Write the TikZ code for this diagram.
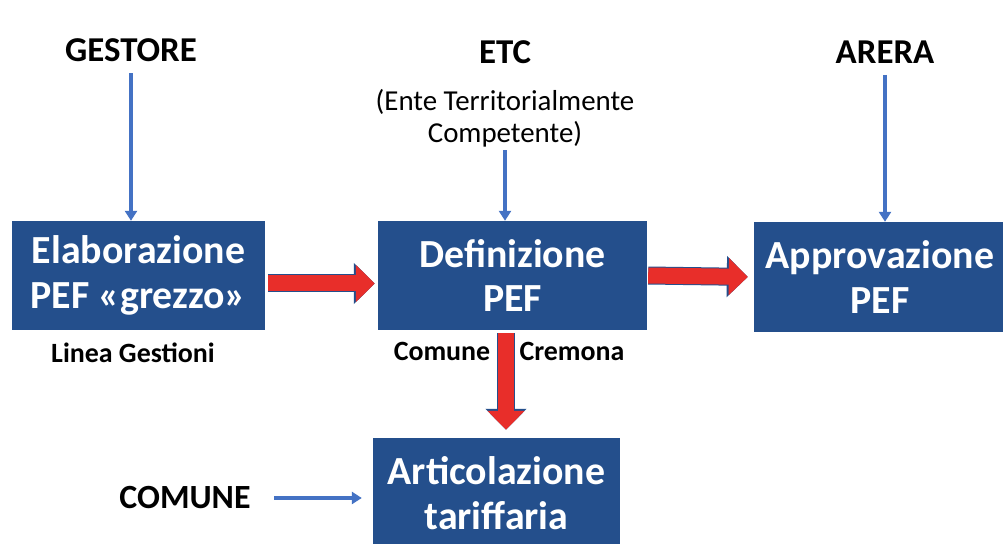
\documentclass[tikz,border=0pt]{standalone}
\usepackage{fontspec}
\setmainfont{Carlito}
\usetikzlibrary{arrows.meta}
\definecolor{boxblu}{RGB}{36,79,140}
\definecolor{frecciablu}{RGB}{68,114,196}
\definecolor{frecciarossa}{RGB}{232,46,42}
\begin{document}
\begin{tikzpicture}[x=1bp,y=1bp,
    fase/.style={fill=boxblu, text=white, align=center, inner sep=0pt,
        minimum height=109bp, font=\fontsize{40}{45}\selectfont\bfseries},
    soggetto/.style={font=\fontsize{35}{40}\selectfont\bfseries},
    nota/.style={font=\fontsize{28}{32}\selectfont\bfseries},
    flusso/.style={draw=frecciablu, line width=3.5bp, -{Triangle[width=12bp,length=10bp]}},
    passo/.style={draw=frecciarossa, line width=16bp, -{Triangle[width=36bp,length=19bp]},
        preaction={draw=boxblu, line width=18bp, -{Triangle[width=40bp,length=21bp]}}}]
    \useasboundingbox[fill=white] (0,0) rectangle (1003,544);
    % fasi del PEF
    \node[fase, minimum width=253bp] (elab) at (138.5,268.5) {Elaborazione\\PEF «grezzo»};
    \node[fase, minimum width=269bp] (defin) at (512.5,268.5) {Definizione\\PEF};
    \node[fase, minimum width=252bp, minimum height=110bp] (appr) at (880,267) {Approvazione\\PEF};
    \node[fase, minimum width=247bp, minimum height=110bp] (artic) at (496.5,51) {Articolazione\\tariffaria};
    % soggetti
    \node[soggetto] (gestore) at (131,494) {GESTORE};
    \node[soggetto] (etc) at (505,492) {ETC};
    \node[font=\fontsize{29}{32}\selectfont, align=center] (ente) at (505,426) {(Ente Territorialmente\\Competente)};
    \node[soggetto] (arera) at (885,492) {ARERA};
    \node[soggetto, font=\fontsize{34}{40}\selectfont\bfseries] (comune) at (185,46) {COMUNE};
    \node[nota] (linea) at (133,191) {Linea Gestioni};
    \node[nota] (comcr) at (442,193) {Comune};
    \node[nota] (cremona) at (572,193) {Cremona};
    \draw[flusso, shorten <=8bp] (gestore.south) -- (gestore.south |- elab.north);
    \draw[flusso] (ente.south) -- (ente.south |- defin.north);
    \draw[flusso, shorten <=8bp] (arera.south) -- (arera.south |- appr.north);
    \draw[flusso, shorten <=20bp, shorten >=11bp] (comune.east) -- (comune.east -| artic.west);
    % frecce rosse
    \draw[passo, shorten <=3bp, shorten >=3bp] ([yshift=-8bp]elab.east) -- ([yshift=-8bp]defin.west);
    \draw[passo, shorten <=1bp, shorten >=6bp] (defin.east) -- (appr.west);
    \draw[passo, shorten <=3bp, shorten >=8bp] ([xshift=-6.5bp]defin.south) -- ([xshift=-6.5bp]defin.south |- artic.north);
\end{tikzpicture}
\end{document}
